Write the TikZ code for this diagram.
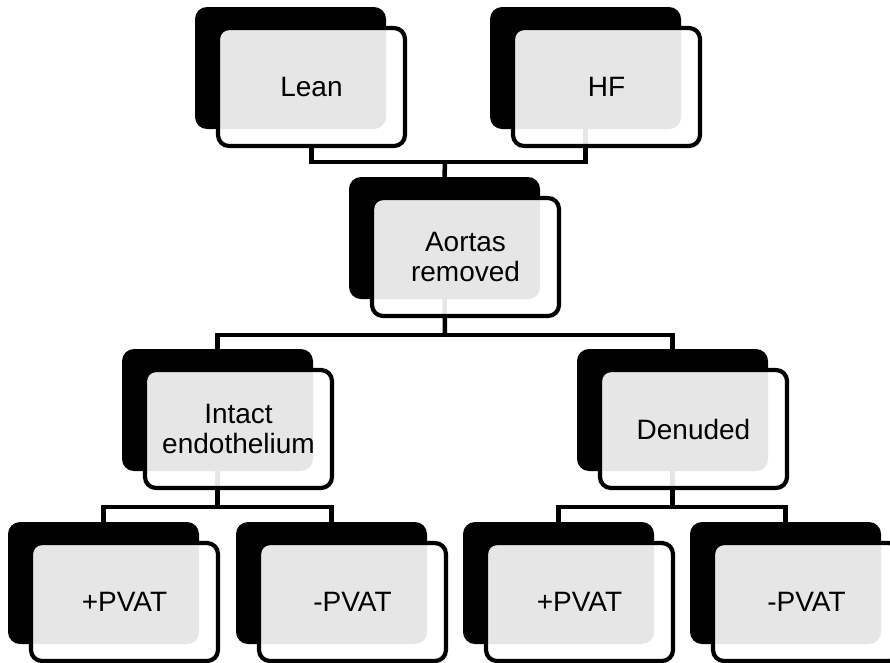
\documentclass[tikz,border=0pt]{standalone}
\usepackage{fontspec}
\setmainfont{Liberation Sans}
\begin{document}
\begin{tikzpicture}[x=1pt,y=-1pt,
  backbox/.style={fill=black,rounded corners=12pt,minimum width=191pt,minimum height=122pt,inner sep=0pt},
  frontbox/.style={draw=black,line width=4.2pt,fill=white,fill opacity=0.9,text opacity=1,rounded corners=11pt,
     minimum width=187pt,minimum height=118pt,inner sep=0pt,align=center,
     font=\fontsize{28}{29.5}\selectfont},
  conn/.style={draw=black,line width=4.5pt}]
\useasboundingbox (0,0) rectangle (890,662);
% back boxes (center = bx+95.5, by+61)
\node[backbox] (leanB) at (290.5,68) {};
\node[backbox] (hfB)   at (585.5,68) {};
\node[backbox] (aoB)   at (444.5,238) {};
\node[backbox] (intB)  at (217.5,410) {};
\node[backbox] (denB)  at (672.5,410) {};
\node[backbox] (p1B)   at (103.5,583) {};
\node[backbox] (m1B)   at (331.5,583) {};
\node[backbox] (p2B)   at (558.5,583) {};
\node[backbox] (m2B)   at (785.5,583) {};
% junctions
\coordinate (j1) at (445,162);
\coordinate (j2) at (445,335);
\coordinate (j3) at (217.5,507);
\coordinate (j4) at (672.5,507);
% connectors
\draw[conn] ([xshift=21pt]leanB.south |- 0,147) |- (j1) -| (hfB.south);
\draw[conn] (j1) -- (aoB.north);
\draw[conn] (aoB.south) -- (j2);
\draw[conn] (intB.north) |- (j2) -| (denB.north);
\draw[conn] (intB.south) -- (j3);
\draw[conn] (p1B.north) |- (j3) -| (m1B.north);
\draw[conn] (denB.south) -- (j4);
\draw[conn] (p2B.north) |- (j4) -| (m2B.north);
% front boxes (center = bx+116.5, by+80)
\node[frontbox] (leanF) at (311.5,87) {Lean};
\node[frontbox] (hfF)   at (606.5,87) {HF};
\node[frontbox] (aoF)   at (465.5,257) {Aortas\\removed};
\node[frontbox] (intF)  at (238.5,429) {Intact\\endothelium};
\node[frontbox] (denF)  at (693.5,429) {Denuded};
\node[frontbox] (p1F)   at (124.5,602) {+PVAT};
\node[frontbox] (m1F)   at (352.5,602) {-PVAT};
\node[frontbox] (p2F)   at (579.5,602) {+PVAT};
\node[frontbox] (m2F)   at (806.5,602) {-PVAT};
\end{tikzpicture}
\end{document}
